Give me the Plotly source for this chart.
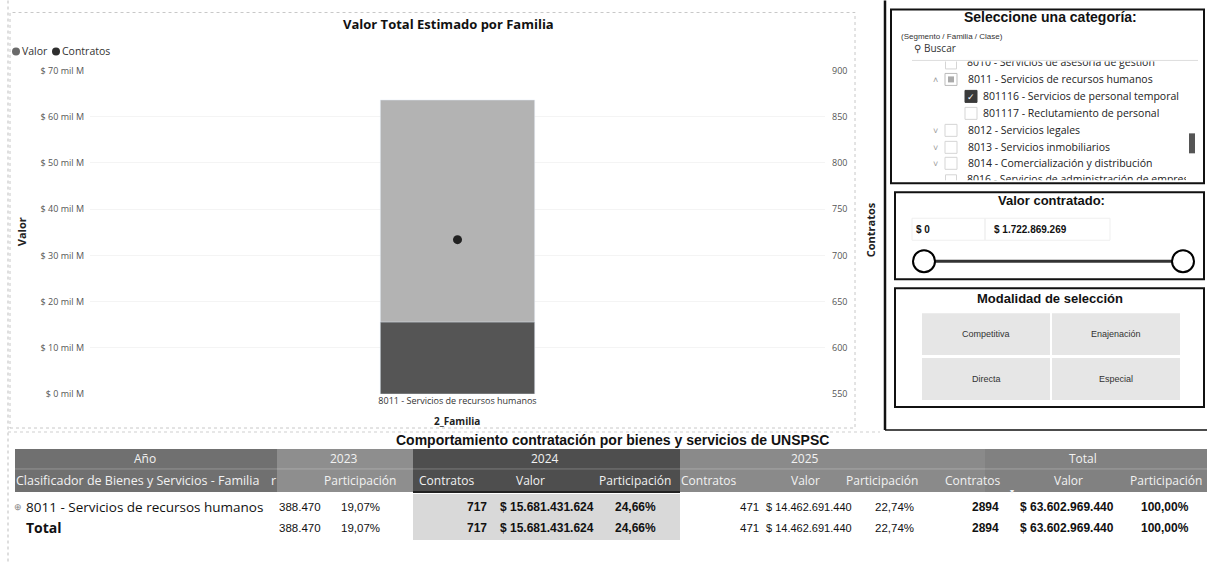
import plotly.graph_objects as go

W, H = 1207, 562

# ---------------- data ----------------
categoria = ["8011 - Servicios de recursos humanos"]
valor_total = [63602969440]
valor_seleccion = [15560000000]
contratos_familia = [717]
valor_ticks_milm = [0, 10, 20, 30, 40, 50, 60, 70]
contratos_ticks = [550, 600, 650, 700, 750, 800, 850, 900]

anios = ["2023", "2024", "2025", "Total"]
columnas = ["Contratos", "Valor", "Participación"]
fila_familia = "8011 - Servicios de recursos humanos"
tabla_contratos = ["", "717", "471", "2894"]
tabla_valor = ["388.470", "$ 15.681.431.624", "$ 14.462.691.440", "$ 63.602.969.440"]
tabla_participacion = ["19,07%", "24,66%", "22,74%", "100,00%"]

arbol = [
    ("^", "partial", "8011 - Servicios de recursos humanos", 0),
    ("", "checked", "801116 - Servicios de personal temporal", 1),
    ("", "empty", "801117 - Reclutamiento de personal", 1),
    ("v", "empty", "8012 - Servicios legales", 0),
    ("v", "empty", "8013 - Servicios inmobiliarios", 0),
    ("v", "empty", "8014 - Comercialización y distribución", 0),
]
arbol_cortado = ["8010 - Servicios de asesoría de gestión", "8016 - Servicios de administración de empresas"]
valor_min, valor_max = 0, 1722869269
modalidades = ["Competitiva", "Enajenación", "Directa", "Especial"]

# ---------------- helpers ----------------
# page-to-figure vertical calibration (the rendered page shows the figure slightly inset)
V_OFF, V_SCALE = 6.5, 0.978

def px(x):
    return x / W

def py(y):
    return 1 - ((y - V_OFF) / V_SCALE) / H

shapes = []
annotations = []

def rect(x0, y0, x1, y1, fill="rgba(0,0,0,0)", line="rgba(0,0,0,0)", lw=0, dash="solid", layer="below"):
    shapes.append(dict(type="rect", xref="paper", yref="paper",
                       x0=px(x0), x1=px(x1), y0=py(y1), y1=py(y0),
                       fillcolor=fill, line=dict(color=line, width=lw, dash=dash), layer=layer))

def line(x0, y0, x1, y1, color="#000", lw=1, dash="solid", layer="above"):
    shapes.append(dict(type="line", xref="paper", yref="paper",
                       x0=px(x0), x1=px(x1), y0=py(y0), y1=py(y1),
                       line=dict(color=color, width=lw, dash=dash), layer=layer))

def circle(cx, cy, r, fill="#fff", color="#000", lw=2):
    shapes.append(dict(type="circle", xref="paper", yref="paper",
                       x0=px(cx - r), x1=px(cx + r), y0=py(cy + r), y1=py(cy - r),
                       fillcolor=fill, line=dict(color=color, width=lw), layer="above"))

def text(x, y, s, size=11, color="#222", anchor="left", family="Open Sans, sans-serif", bold=False, angle=0):
    annotations.append(dict(x=px(x), y=py(y), xref="paper", yref="paper", showarrow=False,
                            text=("<b>%s</b>" % s) if bold else s, xanchor=anchor, yanchor="middle",
                            textangle=angle, font=dict(size=size, color=color, family=family),
                            borderpad=0))

def fmt_pesos(v):
    return "$ " + "{:,}".format(v).replace(",", ".")

# ---------------- chart ----------------
fig = go.Figure()
fig.add_trace(go.Bar(x=categoria, y=valor_total, marker_color="#b3b3b3", width=0.21,
                     name="Valor", showlegend=False))
fig.add_trace(go.Bar(x=categoria, y=valor_seleccion, marker_color="#555555", width=0.21,
                     name="Valor selección", showlegend=False))
fig.add_trace(go.Scatter(x=categoria, y=contratos_familia, mode="markers", yaxis="y2",
                         marker=dict(color="#222222", size=9), name="Contratos", showlegend=False))

# chart framing
rect(10, 12, 855, 428, line="#c8c8c8", lw=1, dash="dot")
line(8, 0, 8, 562, color="#bdbdbd", lw=1, dash="dot")
line(8, 432, 880, 432, color="#cfcfcf", lw=1, dash="dot")

text(448, 24, "Valor Total Estimado por Familia", size=13, color="#111", anchor="center", bold=True)
circle(16, 51, 4, fill="#6a6a6a", color="#6a6a6a", lw=0)
text(21, 51, "Valor", size=10.5, color="#333")
circle(56, 51, 4, fill="#2e2e2e", color="#2e2e2e", lw=0)
text(61, 51, "Contratos", size=10.5, color="#333")
text(21, 232, "Valor", size=11, color="#222", anchor="center", bold=True, angle=-90)
text(870, 230, "Contratos", size=11, color="#222", anchor="center", bold=True, angle=-90)
text(457, 421, "2_Familia", size=10, color="#222", anchor="center", bold=True)

# ---------------- right panel ----------------
line(885, 0, 885, 430, color="#111", lw=2.5)
line(885, 430, 1207, 430, color="#111", lw=1.5)

rect(891, 9, 1204, 183, line="#111", lw=2)
text(1050, 17, "Seleccione una categoría:", size=14, color="#111", anchor="center",
     family="Liberation Sans, Arial, sans-serif", bold=True)
text(900, 36, "(Segmento / Familia / Clase)", size=8, color="#333", family="Liberation Sans, Arial, sans-serif")
text(913, 48, "⚲", size=10, color="#333")
text(923, 48, "Buscar", size=10, color="#333")
line(912, 60, 1198, 60, color="#dddddd", lw=1)

row_y = [79, 96, 113, 130, 147, 163]
for (chev, state, label, level), yy in zip(arbol, row_y):
    cb_x = 945 if level == 0 else 965
    if chev:
        text(935, yy, "˄" if chev == "^" else "˅", size=9, color="#999", anchor="center")
    if state == "checked":
        rect(cb_x, yy - 6, cb_x + 12, yy + 6, fill="#3a3a3a", line="#3a3a3a", lw=1, layer="above")
        text(cb_x + 6, yy, "✓", size=9, color="#fff", anchor="center")
    elif state == "partial":
        rect(cb_x, yy - 6, cb_x + 12, yy + 6, fill="#fff", line="#bbbbbb", lw=1, layer="above")
        rect(cb_x + 3, yy - 3, cb_x + 9, yy + 3, fill="#aaaaaa", line="#aaaaaa", lw=0, layer="above")
    else:
        rect(cb_x, yy - 6, cb_x + 12, yy + 6, fill="#fff", line="#d5d5d5", lw=1, layer="above")
    text(cb_x + 17 if level else cb_x + 22, yy, label, size=10.5, color="#222")
rect(1189, 133, 1195, 153, fill="#555", line="#555", lw=0)

# rows of the list that are scrolled half out of view (clipped to the list viewport)
fig.add_trace(go.Scatter(x=[967, 967], y=[63, 180], text=arbol_cortado, mode="text",
                         textposition="middle right", cliponaxis=True, hoverinfo="skip",
                         textfont=dict(size=10.5, color="#222", family="Open Sans, sans-serif"),
                         xaxis="x3", yaxis="y3", showlegend=False))
fig.add_trace(go.Scatter(x=[951, 951], y=[63, 180], mode="markers", cliponaxis=True, hoverinfo="skip",
                         marker=dict(symbol="square", size=11, color="#fff",
                                     line=dict(color="#d5d5d5", width=1)),
                         xaxis="x3", yaxis="y3", showlegend=False))

rect(895, 192, 1204, 279, line="#111", lw=2)
text(1051, 200, "Valor contratado:", size=13, color="#111", anchor="center",
     family="Liberation Sans, Arial, sans-serif", bold=True)
rect(912, 218, 985, 240, line="#efefef", lw=1)
rect(985, 218, 1110, 240, line="#efefef", lw=1)
text(915, 229, fmt_pesos(valor_min), size=10, color="#111", family="Liberation Sans, Arial, sans-serif", bold=True)
text(993, 229, fmt_pesos(valor_max), size=10, color="#111", family="Liberation Sans, Arial, sans-serif", bold=True)
line(930, 261, 1175, 261, color="#333", lw=3)
circle(924, 261, 11)
circle(1183, 261, 11)

rect(895, 288, 1204, 407, line="#111", lw=2)
text(1050, 298, "Modalidad de selección", size=13, color="#111", anchor="center",
     family="Liberation Sans, Arial, sans-serif", bold=True)
tiles = [(922, 313, 1050, 355), (1052, 313, 1180, 355), (922, 358, 1050, 400), (1052, 358, 1180, 400)]
for name, (x0, y0, x1, y1) in zip(modalidades, tiles):
    rect(x0, y0, x1, y1, fill="#e6e6e6", line="#e6e6e6", lw=0)
    text((x0 + x1) / 2, (y0 + y1) / 2, name, size=9, color="#333", anchor="center",
         family="Liberation Sans, Arial, sans-serif")

# ---------------- table ----------------
text(612, 440, "Comportamiento contratación por bienes y servicios de UNSPSC", size=14, color="#111",
     anchor="center", family="Liberation Sans, Arial, sans-serif", bold=True)

hy0, hmid, hy1 = 449, 469, 492
sections = [(15, 277, "#707070"), (277, 413, "#8e8e8e"), (413, 680, "#4e4e4e"),
            (680, 985, "#8a8a8a"), (985, 1207, "#818181")]
for x0, x1, c in sections:
    rect(x0, hy0, x1, hy1, fill=c, line=c, lw=0)
line(15, hmid, 1207, hmid, color="rgba(255,255,255,0.25)", lw=1)
line(413, hy1, 680, hy1, color="#222", lw=2)
rect(413, 494, 680, 540, fill="#d9d9d9", line="#d9d9d9", lw=0)

hfont = "Open Sans, sans-serif"
text(145, 459, "Año", size=12, color="#f2f2f2", anchor="center", family=hfont)
text(15, 481, "Clasificador de Bienes y Servicios - Familia", size=12.5, color="#f2f2f2", family=hfont)
text(273, 481, "r", size=12.5, color="#f2f2f2", anchor="center", family=hfont)

year_centers = [344, 545, 805, 1083]
head_centers = {"2023": [None, None, 360], "2024": [447, 530, 635],
                "2025": [708, 805, 882], "Total": [972, 1068, 1166]}
val_right = {"2023": [None, 322, 381], "2024": [488, 595, 657],
             "2025": [760, 853, 915], "Total": [1000, 1115, 1190]}
for i, a in enumerate(anios):
    text(year_centers[i], 459, a, size=12, color="#f2f2f2", anchor="center", family=hfont)
    for j, col in enumerate(columnas):
        hc = head_centers[a][j]
        if hc is not None:
            text(hc, 481, col, size=12, color="#f2f2f2", anchor="center", family=hfont)
text(1012, 491, "▾", size=8, color="#f2f2f2", anchor="center")

text(18, 507, "⊕", size=9, color="#888", anchor="center")
text(25, 507, fila_familia, size=13.5, color="#111", family=hfont)
text(25, 528, "Total", size=14, color="#111", family=hfont, bold=True)

nfont = "Liberation Sans, Arial, sans-serif"
for i, a in enumerate(anios):
    vals = [tabla_contratos[i], tabla_valor[i], tabla_participacion[i]]
    bold = a in ("2024", "Total")
    size = 12 if bold else 11.5
    for j, v in enumerate(vals):
        xr = val_right[a][j]
        if xr is None or v == "":
            continue
        s = size
        if a == "2025" and j == 1:
            s = 11
        text(xr, 507, v, size=s, color="#111", anchor="right", family=nfont, bold=bold)
        text(xr, 528, v, size=s, color="#111", anchor="right", family=nfont, bold=bold)

# ---------------- layout ----------------
fig.update_layout(
    width=W, height=H, autosize=False, margin=dict(l=0, r=0, t=0, b=0),
    paper_bgcolor="#ffffff", plot_bgcolor="rgba(0,0,0,0)",
    barmode="overlay", showlegend=False,
    xaxis=dict(domain=[px(90), px(825)], showgrid=False, zeroline=False, showline=False,
               tickfont=dict(size=9, color="#333", family="Open Sans, sans-serif"), ticks=""),
    yaxis=dict(domain=[py(394), py(70)], range=[0, 70e9],
               tickvals=[v * 1e9 for v in valor_ticks_milm],
               ticktext=["$ %d mil M" % v for v in valor_ticks_milm],
               tickfont=dict(size=9, color="#555", family="Open Sans, sans-serif"),
               ticklabelstandoff=5,
               showgrid=True, gridcolor="#f4f4f4", zeroline=False, showline=False, ticks=""),
    yaxis2=dict(overlaying="y", side="right", range=[550, 900], tickvals=contratos_ticks,
                tickfont=dict(size=9, color="#555", family="Open Sans, sans-serif"),
                ticklabelstandoff=6,
                showgrid=False, zeroline=False, showline=False, ticks="", anchor="x"),
    xaxis3=dict(domain=[px(900), px(1186)], range=[900, 1186], visible=False, fixedrange=True),
    yaxis3=dict(domain=[py(180), py(61)], range=[180, 61], visible=False, fixedrange=True,
                anchor="x3"),
    shapes=shapes, annotations=annotations,
)
fig.update_layout(xaxis3=dict(anchor="y3"))

fig.write_html("out.html", config={"displayModeBar": False, "responsive": False},
               post_script="document.body.style.margin='0';document.body.style.overflow='hidden';")
